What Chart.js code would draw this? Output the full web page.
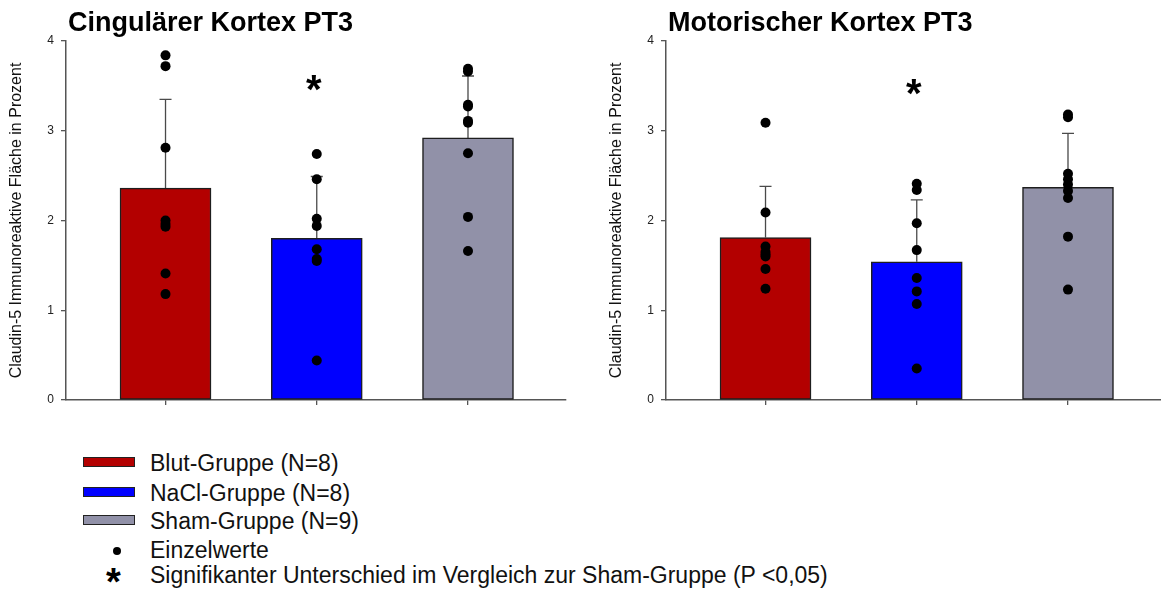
<!DOCTYPE html>
<html>
<head>
<meta charset="utf-8">
<script src="https://cdn.jsdelivr.net/npm/chart.js@4.4.1/dist/chart.umd.min.js"></script>
<style>
  html, body { margin: 0; padding: 0; background: #fff; width: 1161px; height: 590px; overflow: hidden; position: relative; font-family: "Liberation Sans", Arial, sans-serif; }
  canvas { position: absolute; top: 0; }
  #c1 { left: 0; }
  #c2 { left: 600px; }
  .sw { position: absolute; left: 83px; width: 50px; height: 8px; border: 1.5px solid #222; }
  .lt { position: absolute; left: 150px; height: 28px; line-height: 28px; font-size: 23px; color: #111; white-space: nowrap; }
  .dot { position: absolute; width: 8px; height: 8px; border-radius: 50%; background: #000; }
  .star { position: absolute; font-weight: bold; font-size: 38px; line-height: 30px; color: #000; }
</style>
</head>
<body>
<canvas id="c1" width="580" height="420"></canvas>
<canvas id="c2" width="580" height="420"></canvas>

<div class="sw" style="top:457px;background:#B30000"></div>
<div class="lt" style="top:449px">Blut-Gruppe (N=8)</div>
<div class="sw" style="top:487px;background:#0000FF"></div>
<div class="lt" style="top:479px">NaCl-Gruppe (N=8)</div>
<div class="sw" style="top:515px;background:#9191A8"></div>
<div class="lt" style="top:507px">Sham-Gruppe (N=9)</div>
<div class="dot" style="left:113px;top:547px"></div>
<div class="lt" style="top:536px">Einzelwerte</div>
<div class="star" style="left:106px;top:567px">*</div>
<div class="lt" style="top:561px">Signifikanter Unterschied im Vergleich zur Sham-Gruppe (P &lt;0,05)</div>

<script>
// ---- data ----
const groups = ['Blut-Gruppe (N=8)', 'NaCl-Gruppe (N=8)', 'Sham-Gruppe (N=9)'];
const groupColors = ['#B30000', '#0000FF', '#9191A8'];
const yTicks = [0, 1, 2, 3, 4];

const titleCing = 'Cingulärer Kortex PT3';
const meanCing = [2.36, 1.80, 2.92];
const errTopCing = [3.35, 2.49, 3.61];
const dotsCingBlut = [3.84, 3.72, 2.81, 2.00, 1.96, 1.93, 1.41, 1.18];
const dotsCingNaCl = [2.74, 2.46, 2.02, 1.94, 1.68, 1.57, 1.55, 0.44];
const dotsCingSham = [3.69, 3.66, 3.29, 3.27, 3.11, 3.09, 2.75, 2.04, 1.66];
const sigCing = [null, 3.53, null];

const titleMot = 'Motorischer Kortex PT3';
const meanMot = [1.81, 1.54, 2.37];
const errTopMot = [2.38, 2.23, 2.97];
const dotsMotBlut = [3.09, 2.09, 1.71, 1.65, 1.62, 1.60, 1.46, 1.24];
const dotsMotNaCl = [2.41, 2.34, 1.97, 1.67, 1.36, 1.21, 1.07, 0.35];
const dotsMotSham = [3.18, 3.15, 2.52, 2.46, 2.40, 2.33, 2.25, 1.82, 1.23];
const sigMot = [null, 3.49, null];

const yTitle = 'Claudin-5 Immunoreaktive Fläche in Prozent';
const FONT = '"Liberation Sans", Arial, sans-serif';

const overlay = {
  id: 'overlay',
  beforeDatasetsDraw(chart, args, o) {
    const { ctx, scales: { x, y } } = chart;
    ctx.save();
    ctx.strokeStyle = '#4a4a4a';
    ctx.lineWidth = 1.3;
    o.means.forEach((m, i) => {
      const px = x.getPixelForValue(i + 1);
      const y0 = y.getPixelForValue(m);
      const y1 = y.getPixelForValue(o.errs[i]);
      ctx.beginPath();
      ctx.moveTo(px, y0); ctx.lineTo(px, y1);
      ctx.moveTo(px - 6, y1); ctx.lineTo(px + 6, y1);
      ctx.stroke();
    });
    ctx.restore();
  },
  afterDraw(chart, args, o) {
    const { ctx, chartArea, scales: { x, y } } = chart;
    ctx.save();
    ctx.fillStyle = '#000';
    ctx.font = 'bold 27px ' + FONT;
    ctx.textBaseline = 'alphabetic';
    ctx.textAlign = 'left';
    ctx.fillText(o.title, chartArea.left + 2, 31);
    ctx.font = 'bold 40px ' + FONT;
    ctx.textAlign = 'center';
    o.sig.forEach((v, i) => {
      if (v == null) return;
      const m = ctx.measureText('*');
      const py = y.getPixelForValue(v) + (m.actualBoundingBoxAscent - m.actualBoundingBoxDescent) / 2;
      ctx.fillText('*', x.getPixelForValue(i + 1) - 3, py);
    });
    ctx.restore();
  }
};

function makeChart(id, title, means, errs, dots, sig) {
  const pts = [];
  dots.forEach((arr, gi) => arr.forEach(v => pts.push({ x: gi + 1, y: v })));
  new Chart(document.getElementById(id), {
    type: 'bar',
    data: {
      datasets: [
        {
          type: 'scatter',
          label: 'Einzelwerte',
          data: pts,
          order: 1,
          pointRadius: 5,
          pointBackgroundColor: '#000',
          pointBorderWidth: 0,
          showLine: false
        },
        {
          type: 'bar',
          label: 'Mittelwert',
          data: means.map((m, i) => ({ x: i + 1, y: m })),
          order: 2,
          backgroundColor: groupColors,
          borderColor: '#1e1e1e',
          borderWidth: 1.5,
          borderSkipped: false,
          barThickness: 91
        }
      ]
    },
    options: {
      responsive: false,
      maintainAspectRatio: false,
      animation: false,
      events: [],
      layout: { padding: { left: 0, right: 14, top: 41, bottom: 0 } },
      plugins: {
        legend: { display: false },
        tooltip: { enabled: false },
        title: { display: false },
        overlay: { title, means, errs, sig }
      },
      scales: {
        x: {
          type: 'linear',
          min: 0.342,
          max: 3.648,
          offset: false,
          afterBuildTicks: s => { s.ticks = [{ value: 1 }, { value: 2 }, { value: 3 }]; },
          afterFit: s => { s.height = 20; },
          ticks: { callback: () => '' },
          grid: { display: true, drawOnChartArea: false, drawTicks: true, tickLength: 5, color: '#555', lineWidth: 1.3, offset: false },
          border: { display: true, color: '#555', width: 1.5 }
        },
        y: {
          min: 0,
          max: 4,
          afterBuildTicks: s => { s.ticks = yTicks.map(v => ({ value: v })); },
          afterFit: s => { s.width = 66; },
          ticks: { padding: 7, color: '#222', font: { family: FONT, size: 12 } },
          grid: { display: true, drawOnChartArea: false, drawTicks: true, tickLength: 5, color: '#555', lineWidth: 1.3 },
          border: { display: true, color: '#555', width: 1.5 },
          title: { display: true, text: yTitle, color: '#111', font: { family: FONT, size: 16 }, padding: { top: 7, bottom: 0 } }
        }
      }
    },
    plugins: [overlay]
  });
}

makeChart('c1', titleCing, meanCing, errTopCing, [dotsCingBlut, dotsCingNaCl, dotsCingSham], sigCing);
makeChart('c2', titleMot, meanMot, errTopMot, [dotsMotBlut, dotsMotNaCl, dotsMotSham], sigMot);
</script>
</body>
</html>
